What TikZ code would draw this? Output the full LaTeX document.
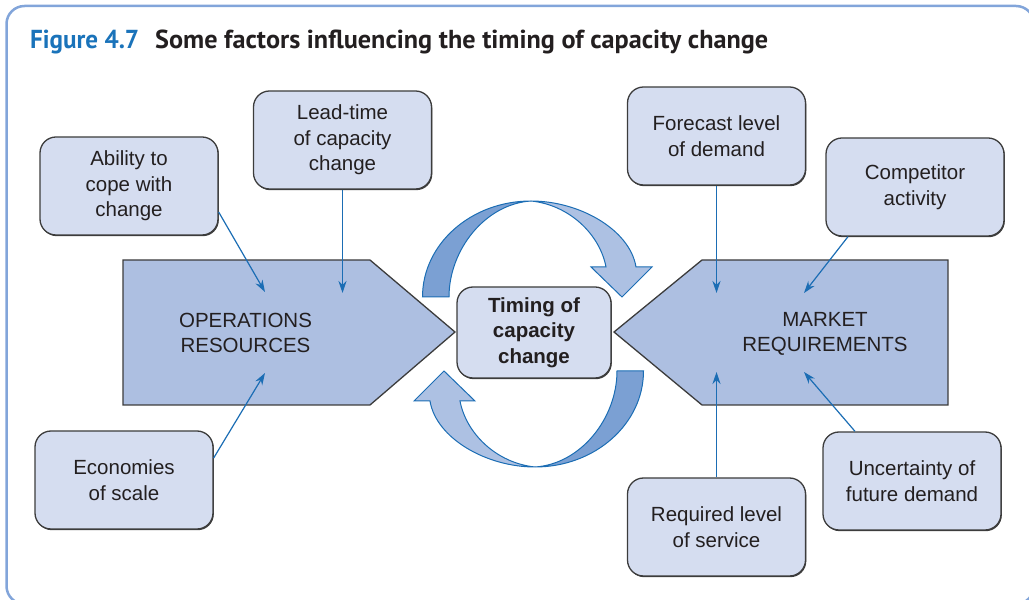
\documentclass[tikz,border=0pt]{standalone}
\usepackage{fontspec}
\setmainfont{Liberation Sans}
\newfontfamily\titlefont{PT Sans}
\usetikzlibrary{arrows.meta,calc,shadows}
\definecolor{boxfill}{HTML}{D5DDF0}
\definecolor{pentfill}{HTML}{ADBFE1}
\definecolor{ringdark}{HTML}{7BA0D3}
\definecolor{ringlight}{HTML}{ADC1E3}
\definecolor{linkblue}{HTML}{1B6DB4}
\definecolor{framecol}{HTML}{82A5DA}
\definecolor{textcol}{HTML}{231F20}
\definecolor{figblue}{HTML}{1A73BA}
\definecolor{edgegray}{HTML}{3C3C3C}
\begin{document}
\begin{tikzpicture}[x=1pt,y=1pt,
 factor/.style={draw=edgegray, line width=1.3pt, fill=boxfill, rounded corners=16pt,
   minimum width=178pt, minimum height=98pt, inner sep=0pt, align=center, text=textcol,
   font=\fontsize{20.5}{25.5}\selectfont,
   drop shadow={shadow xshift=0.8pt, shadow yshift=-1.2pt, fill=edgegray, opacity=1}},
 centre/.style={factor, minimum width=154pt, minimum height=91pt,
   font=\bfseries\fontsize{20.5}{25.5}\selectfont},
 pent/.style={draw=edgegray, line width=1.3pt, fill=pentfill},
 link/.style={draw=linkblue, line width=1.2pt, -{Stealth[length=12pt,width=8pt]}},
 ringedge/.style={draw=linkblue, line width=1pt},
 bigtext/.style={align=center, text=textcol, font=\fontsize{20.5}{25.5}\selectfont}]
\useasboundingbox (0,0) rectangle (1029,600);
% frame
\begin{scope}
\clip (0,0) rectangle (1029,600);
\draw[framecol, line width=2.5pt, rounded corners=18pt] (6.5,-4) rectangle (1034,594);
\end{scope}
% title
\node[anchor=base west, inner sep=0pt, text=figblue] (fig) at (30,551)
  {\titlefont\bfseries\fontsize{26}{30}\selectfont\resizebox{109pt}{\height}{Figure 4.7}};
\node[anchor=base west, inner sep=0pt, text=textcol] (ttl) at (155,551)
  {\titlefont\bfseries\fontsize{26}{30}\selectfont\resizebox{613pt}{\height}{Some factors influencing the timing of capacity change}};
% pentagons
\path[pent] (123,340) -- (370,340) -- (455,268) -- (370,195) -- (123,195) -- cycle;
\path[pent] (948,340) -- (702,340) -- (614,268) -- (702,195) -- (948,195) -- cycle;
\node[bigtext] (ops) at (245.5,267) {OPERATIONS\\RESOURCES};
\node[bigtext] (mkt) at (825,266) {MARKET\\REQUIREMENTS};
% rings
\begin{scope}
 \filldraw[ringedge, fill=ringdark] (422.5,303) .. controls (422.5,356) and (471,399) .. (531,399)
   .. controls (485,396) and (449,350) .. (449,303) -- cycle;
 \filldraw[ringedge, fill=ringlight] (531,399) .. controls (580,399) and (630,370) .. (636,333)
   -- (652,333) -- (622,303) -- (591,333) -- (606,333)
   .. controls (600,365) and (570,395) .. (531,399) -- cycle;
\end{scope}
\begin{scope}[rotate around={180:(533,266)}]
 \filldraw[ringedge, fill=ringdark] (422.5,303) .. controls (422.5,356) and (471,399) .. (531,399)
   .. controls (485,396) and (449,350) .. (449,303) -- cycle;
 \filldraw[ringedge, fill=ringlight] (531,399) .. controls (580,399) and (630,370) .. (636,333)
   -- (652,333) -- (622,303) -- (591,333) -- (606,333)
   .. controls (600,365) and (570,395) .. (531,399) -- cycle;
\end{scope}
% boxes
\node[factor] (abil) at (129,414) {Ability to\\cope with\\change};
\node[factor] (lead) at (342.5,460) {Lead-time\\of capacity\\change};
\node[factor] (fore) at (716.5,464) {Forecast level\\of demand};
\node[factor] (comp) at (915,413) {Competitor\\activity};
\node[factor] (econ) at (124,120) {Economies\\of scale};
\node[factor] (unce) at (912,119) {Uncertainty of\\future demand};
\node[factor] (requ) at (716.5,73) {Required level\\of service};
\node[centre] (timing) at (534,267.5) {Timing of\\capacity\\change};
% connector ends
\coordinate (opsA) at (265,308);
\coordinate (opsB) at (342.5,307);
\coordinate (opsC) at (265,227);
\coordinate (mktA) at (716.5,307);
\coordinate (mktB) at (804,307);
\coordinate (mktC) at (716.5,228);
\coordinate (mktD) at (804,228);
\draw[link] ([yshift=-26pt]abil.east) -- (opsA);
\draw[link] (lead.south) -- (opsB);
\draw[link] ([yshift=22pt]econ.east) -- (opsC);
\draw[link] (fore.south) -- (mktA);
\draw[link] ([xshift=-67pt]comp.south) -- (mktB);
\draw[link] (requ.north) -- (mktC);
\draw[link] ([xshift=-57pt]unce.north) -- (mktD);
\end{tikzpicture}
\end{document}
